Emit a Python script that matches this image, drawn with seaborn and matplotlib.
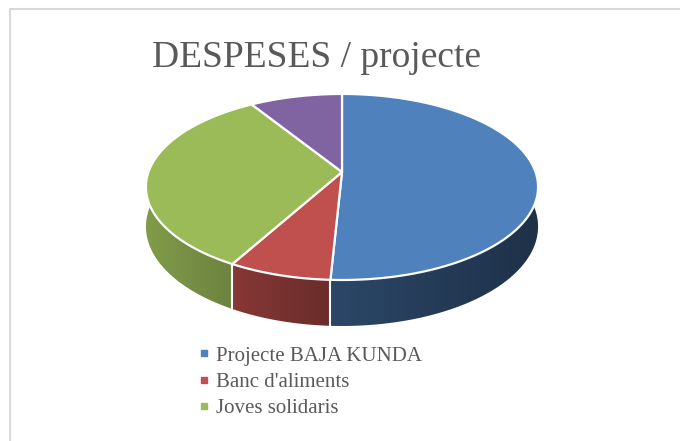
import numpy as np
import matplotlib
matplotlib.use("Agg")
import matplotlib.pyplot as plt
from matplotlib.patches import Polygon
from matplotlib.lines import Line2D
from matplotlib.font_manager import FontProperties
import seaborn as sns

# data (share of spending, %)
categories = ["Projecte BAJA KUNDA", "Banc d'aliments", "Joves solidaris", "Altres"]
values = [50.8, 7.3, 33.0, 8.9]
legend_labels = categories[:3]   # the legend in the original is cut after three rows
title = "DESPESES / projecte"

sns.set_style("white")
plt.rcParams["font.family"] = ["Liberation Serif", "DejaVu Serif"]

top_colors = sns.color_palette(["#4F81BD", "#C0504D", "#9BBB59", "#8064A2"])
text_color = "#595959"

W, H = 680, 441
fig = plt.figure(figsize=(W / 100, H / 100), dpi=100)
ax = fig.add_axes([0, 0, 1, 1])
ax.set_xlim(0, W)
ax.set_ylim(H, 0)
ax.axis("off")

# 3-D pie geometry in pixel space (simple perspective)
cx, cy = 342, 172
A, B, D, K = 193.5, 90.6, 38.6, 0.161


def project(t, depth=0.0):
    u = np.sin(t)
    v = -np.cos(t)
    w = 1 - K * v
    return cx + A * u / w, cy + (B * v + depth) / w


fracs = np.array(values) / np.sum(values)
edges = np.concatenate([[0], np.cumsum(fracs)]) * 2 * np.pi

# side wall: one polygon per slice, filled with a left-to-right shading
xgrid = np.arange(W)
shade = np.interp(xgrid, [146, 330, 538], [0.83, 0.55, 0.38])
front_first = np.argsort([-np.cos((edges[i] + edges[i + 1]) / 2) for i in range(len(values))])
for i in front_first:
    ts = np.linspace(edges[i], edges[i + 1], 200)
    xt, yt = project(ts)
    xb, yb = project(ts[::-1], D)
    wall = Polygon(list(zip(xt, yt)) + list(zip(xb, yb)), closed=True,
                   facecolor="none", edgecolor="none")
    ax.add_patch(wall)
    grad = np.clip(np.array(top_colors[i])[None, None, :] * shade[None, :, None], 0, 1)
    im = ax.imshow(grad, extent=(0, W, H, 0), aspect="auto", interpolation="bilinear",
                   zorder=1)
    im.set_clip_path(wall)

# white seams on the visible side wall
for t in edges[1:-1]:
    if -np.cos(t) > 0.16:
        xa, ya = project(t)
        xb, yb = project(t, D)
        ax.plot([xa, xb], [ya, yb], color="white", lw=1.5, solid_capstyle="butt", zorder=2)

# top faces
for i in range(len(values)):
    ts = np.linspace(edges[i], edges[i + 1], max(int(fracs[i] * 720), 4))
    xs, ys = project(ts)
    pts = [(cx, cy)] + list(zip(xs, ys))
    ax.add_patch(Polygon(pts, closed=True, facecolor=top_colors[i],
                         edgecolor="white", lw=1.6, joinstyle="round", zorder=3))

ax.set_xlim(0, W)
ax.set_ylim(H, 0)

# chart frame (only top and left edges show in the crop)
ax.plot([10, 10, W], [H, 9, 9], color="#d9d9d9", lw=1.5, zorder=4)

serif = FontProperties(family="Liberation Serif", size=27)
ax.text(317, 67, title, ha="center", va="baseline", color=text_color, fontproperties=serif)

legend_font = FontProperties(family="Liberation Serif", size=15)
handles = [Line2D([], [], marker="s", ls="", color=top_colors[i], markersize=4.5)
           for i in range(len(legend_labels))]
leg = ax.legend(handles, legend_labels, loc="upper left", bbox_to_anchor=(199, 346),
                bbox_transform=ax.transData, frameon=False, prop=legend_font,
                labelcolor=text_color, handlelength=0.45, handletextpad=0.35,
                labelspacing=0.32, borderpad=0, borderaxespad=0)

fig.savefig("out.png", dpi=100)
